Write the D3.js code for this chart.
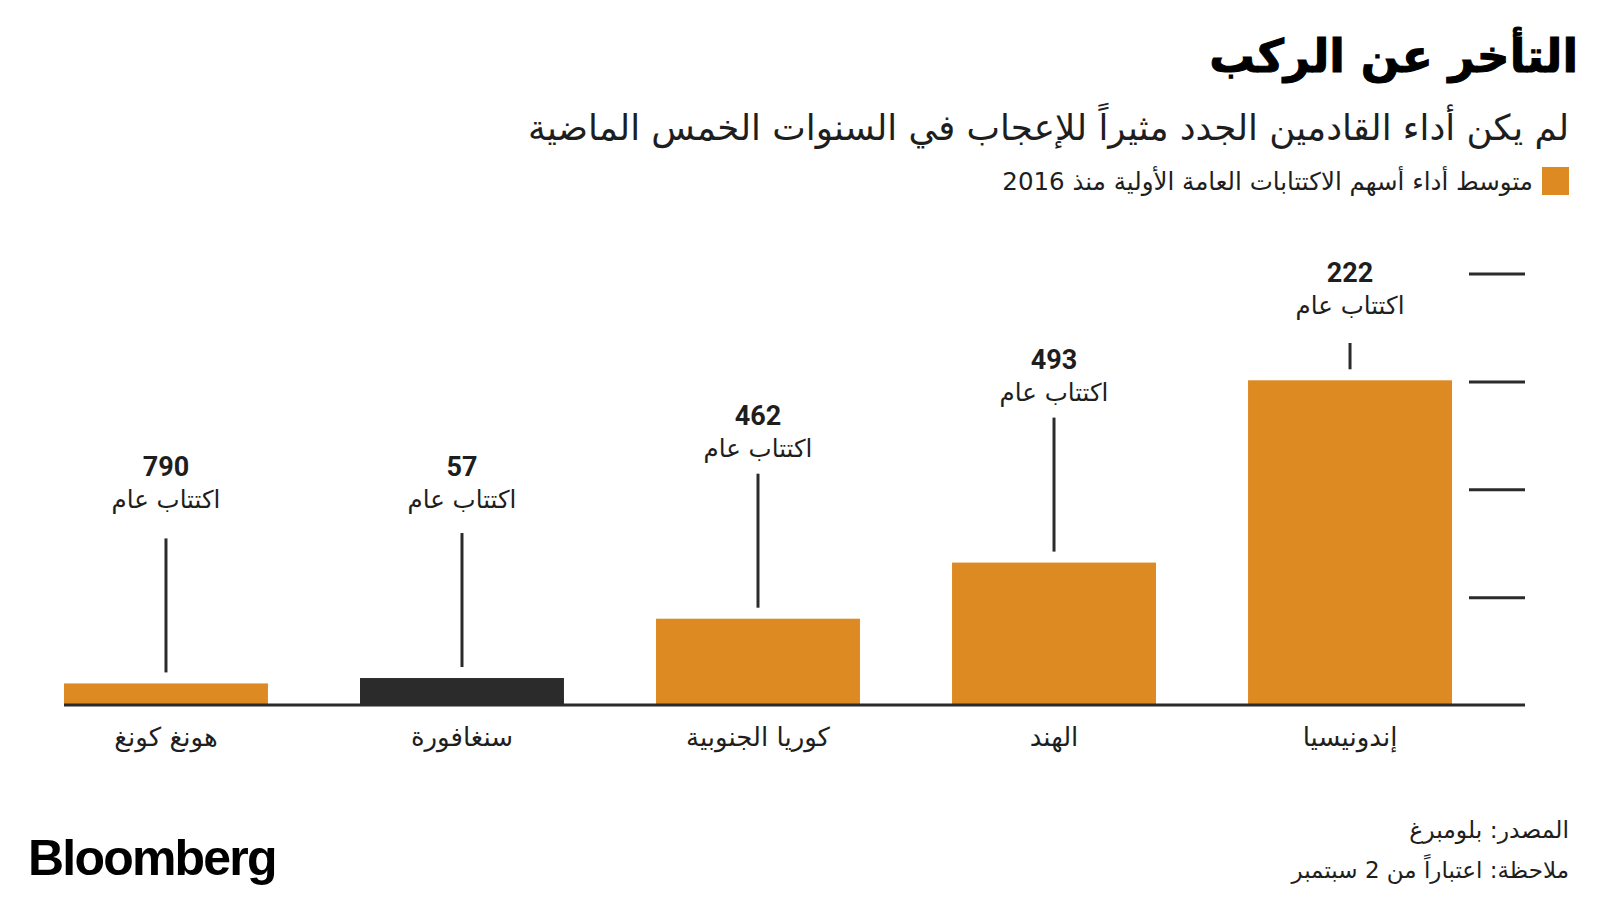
<!DOCTYPE html>
<html><head><meta charset="utf-8">
<script src="https://cdn.jsdelivr.net/npm/d3@7"></script>
<style>
html,body{margin:0;padding:0;background:#fff;}
svg{display:block;}
</style></head>
<body><svg id="c" width="1600" height="900"></svg>
<script>
const categories = ["هونغ كونغ", "سنغافورة", "كوريا الجنوبية", "الهند", "إندونيسيا"];
const performance = [2.0, 2.5, 8.0, 13.2, 30.1];
const ipoCounts = [790, 57, 462, 493, 222];
const yTicks = [10, 20, 30, 40];
const highlight = "سنغافورة";

const ORANGE = "#dd8a22", DARK = "#2b2b2b", INK = "#1e1e1e";
const svg = d3.select("#c");
const AR = '"DejaVu Sans",sans-serif';

const x = d3.scaleBand().domain(categories).range([64, 1452]).paddingInner(0.311).paddingOuter(0);
const y = d3.scaleLinear().domain([0, 40]).range([705, 273.5]);

// titles
svg.append("text").attr("x", 1578).attr("y", 72).attr("direction", "rtl").attr("text-anchor", "start")
  .attr("font-family", AR).attr("font-weight", "bold").attr("font-size", 45.5).attr("fill", "#000")
  .attr("stroke", "#000").attr("stroke-width", 1)
  .text("التأخر عن الركب");
svg.append("text").attr("x", 1569).attr("y", 140).attr("direction", "rtl").attr("text-anchor", "start")
  .attr("font-family", AR).attr("font-size", 35.6).attr("fill", INK)
  .text("لم يكن أداء القادمين الجدد مثيراً للإعجاب في السنوات الخمس الماضية");

// legend
svg.append("rect").attr("x", 1542).attr("y", 167).attr("width", 27).attr("height", 28).attr("fill", ORANGE);
svg.append("text").attr("x", 1533).attr("y", 190).attr("direction", "rtl").attr("text-anchor", "start")
  .attr("font-family", AR).attr("font-size", 24.5).attr("fill", INK)
  .text("متوسط أداء أسهم الاكتتابات العامة الأولية منذ 2016");

// ticks on right
const yAxis = d3.axisRight(y).tickValues(yTicks).tickSize(56).tickFormat("");
const ga = svg.append("g").attr("transform", "translate(1469,0)").call(yAxis);
ga.select(".domain").remove();
ga.selectAll(".tick line").attr("stroke", DARK).attr("stroke-width", 3);

// bars
svg.selectAll("rect.bar").data(categories).join("rect").attr("class", "bar")
  .attr("x", d => x(d)).attr("width", x.bandwidth())
  .attr("y", (d, i) => y(performance[i])).attr("height", (d, i) => y(0) - y(performance[i]))
  .attr("fill", d => d === highlight ? DARK : ORANGE);

// baseline
const xAxis = d3.axisBottom(x).tickSize(0).tickFormat("");
const gx = svg.append("g").attr("transform", `translate(0,${y(0)})`).call(xAxis);
gx.select(".domain").attr("d", `M64,0H1525`).attr("stroke", DARK).attr("stroke-width", 3);

// category labels
svg.selectAll("text.cat").data(categories).join("text").attr("class", "cat")
  .attr("x", d => x(d) + x.bandwidth() / 2).attr("y", 746)
  .attr("direction", "rtl").attr("text-anchor", "middle")
  .attr("font-family", AR).attr("font-size", 26).attr("fill", INK).text(d => d);

// leaders and annotations
categories.forEach((c, i) => {
  const cx = x(c) + x.bandwidth() / 2;
  const bottom = y(performance[i]) - 11;
  const clamped = bottom - 138 < 343;
  const top = clamped ? 343 : bottom - 134;
  svg.append("line").attr("x1", cx).attr("x2", cx).attr("y1", top).attr("y2", bottom)
    .attr("stroke", DARK).attr("stroke-width", 3);
  const numY = clamped ? top - 70 : Math.min(top - 58, 467);
  svg.append("text").attr("x", cx).attr("y", numY + 9).attr("text-anchor", "middle")
    .attr("font-family", "Roboto, 'Liberation Sans', sans-serif").attr("font-weight", "bold")
    .attr("font-size", 27).attr("fill", INK).text(ipoCounts[i]);
  svg.append("text").attr("x", cx).attr("y", numY + 41).attr("direction", "rtl").attr("text-anchor", "middle")
    .attr("font-family", AR).attr("font-size", 24.5).attr("fill", INK).text("اكتتاب عام");
});

// footer
svg.append("text").attr("x", 1569).attr("y", 838).attr("direction", "rtl").attr("text-anchor", "start")
  .attr("font-family", AR).attr("font-size", 23.5).attr("fill", INK).text("المصدر: بلومبرغ");
svg.append("text").attr("x", 1569).attr("y", 878).attr("direction", "rtl").attr("text-anchor", "start")
  .attr("font-family", AR).attr("font-size", 23).attr("fill", INK).text("ملاحظة: اعتباراً من 2 سبتمبر");
svg.append("text").attr("x", 28).attr("y", 875).attr("font-family", "'Liberation Sans', Arial, sans-serif")
  .attr("font-weight", "bold").attr("font-size", 50).attr("letter-spacing", -1.8).attr("fill", "#000").text("Bloomberg");
</script></body></html>
